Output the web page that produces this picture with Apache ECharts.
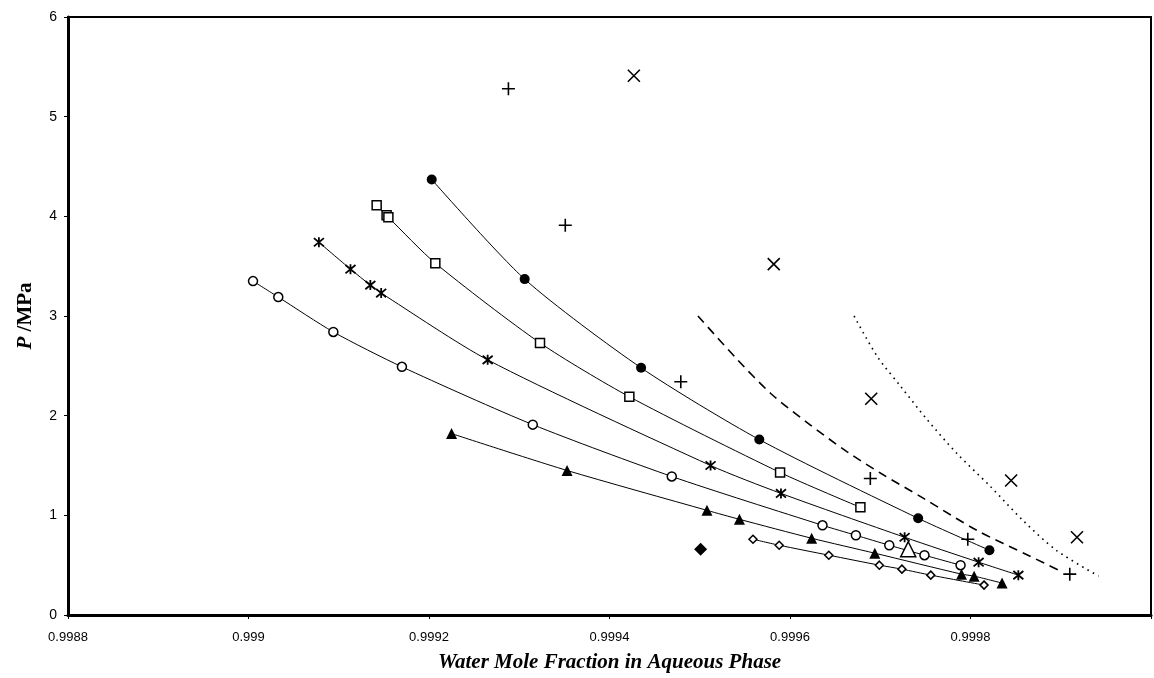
<!DOCTYPE html>
<html><head><meta charset="utf-8">
<script src="https://cdn.jsdelivr.net/npm/echarts@6/dist/echarts.min.js"></script>
<style>html,body{margin:0;padding:0;background:#fff}#c{width:1154px;height:678px}</style>
</head><body><div id="c"></div>
<script>
const xTickLabels = ['0.9988','0.999','0.9992','0.9994','0.9996','0.9998'];
const yTickLabels = ['0','1','2','3','4','5','6'];
const filledCircle = [[0.999203,4.37],[0.999306,3.37],[0.999435,2.48],[0.999566,1.76],[0.999742,0.97],[0.999821,0.65]];
const openSquare = [[0.999142,4.11],[0.999153,4.01],[0.999155,3.99],[0.999207,3.53],[0.999323,2.73],[0.999422,2.19],[0.999589,1.43],[0.999678,1.08]];
const star = [[0.999078,3.74],[0.999113,3.47],[0.999135,3.31],[0.999147,3.23],[0.999265,2.56],[0.999512,1.50],[0.999590,1.22],[0.999727,0.78],[0.999809,0.53],[0.999853,0.40]];
const openCircle = [[0.999005,3.35],[0.999033,3.19],[0.999094,2.84],[0.999170,2.49],[0.999315,1.91],[0.999469,1.39],[0.999636,0.90],[0.999673,0.80],[0.999710,0.70],[0.999749,0.60],[0.999789,0.50]];
const filledTriangle = [[0.999225,1.82],[0.999353,1.45],[0.999508,1.05],[0.999544,0.96],[0.999624,0.77],[0.999694,0.62],[0.999790,0.41],[0.999804,0.39],[0.999835,0.32]];
const openDiamond = [[0.999559,0.76],[0.999588,0.70],[0.999643,0.60],[0.999699,0.50],[0.999724,0.46],[0.999756,0.40],[0.999815,0.30]];
const filledDiamond = [[0.999501,0.66]];
const openTriangle = [[0.999731,0.66]];
const plusPoints = [[0.999288,5.28],[0.999351,3.91],[0.999479,2.34],[0.999689,1.37],[0.999797,0.76],[0.999910,0.41]];
const crossPoints = [[0.999427,5.41],[0.999582,3.52],[0.999690,2.17],[0.999845,1.35],[0.999918,0.78]];
const dashedCurve = [[0.999498,3.00],[0.999542,2.56],[0.999579,2.22],[0.999619,1.93],[0.999663,1.64],[0.999701,1.42],[0.999748,1.17],[0.999807,0.85],[0.999866,0.59],[0.999902,0.43]];
const dottedCurve = [[0.999671,3.00],[0.999697,2.59],[0.999723,2.29],[0.999752,1.96],[0.999785,1.62],[0.999822,1.29],[0.999858,0.95],[0.999895,0.65],[0.999942,0.39]];

const K = '#000';
const starPath = 'path://M0,0L10,10M10,0L0,10M5,-1L5,11';
const plusPath = 'path://M5,0L5,10M0,5L10,5';
const crossPath = 'path://M0,0L10,10M10,0L0,10';

function curve(data, symbol, size, fill, bw) {
  return {
    type: 'line', data: data, smooth: 0.25,
    symbol: symbol, symbolSize: size, showAllSymbol: true,
    lineStyle: { color: K, width: 1 },
    itemStyle: { color: fill, borderColor: K, borderWidth: bw },
    z: 3
  };
}
function points(data, symbol, size, fill, bw) {
  return {
    type: 'scatter', data: data, symbol: symbol, symbolSize: size,
    itemStyle: { color: fill, borderColor: K, borderWidth: bw, opacity: 1 }, z: 4
  };
}

const chart = echarts.init(document.getElementById('c'), null, { renderer: 'canvas' });
chart.setOption({
  animation: false,
  backgroundColor: '#fff',
  grid: { left: 68, right: 3, top: 17, bottom: 63, show: true, borderColor: K, borderWidth: 2, backgroundColor: 'transparent' },
  xAxis: {
    type: 'value', min: 0.9988, max: 1.0, interval: 0.0002,
    name: 'Water Mole Fraction in Aqueous Phase', nameLocation: 'middle', nameGap: 37,
    nameTextStyle: { fontFamily: 'Liberation Serif', fontWeight: 'bold', fontStyle: 'italic', fontSize: 21, color: K },
    axisLine: { show: true, onZero: false, lineStyle: { color: K, width: 3 } },
    axisTick: { show: true, length: 4, lineStyle: { color: K, width: 1 } },
    axisLabel: { margin: 16, fontFamily: 'Liberation Sans', fontSize: 13, color: K,
      formatter: function (v) { const i = Math.round((v - 0.9988) / 0.0002); return xTickLabels[i] || ''; } },
    splitLine: { show: false }
  },
  yAxis: {
    type: 'value', min: 0, max: 6, interval: 1,
    name: '{i|P} {b|/MPa}', nameLocation: 'middle', nameGap: 32, nameRotate: 90,
    nameTextStyle: { fontFamily: 'Liberation Serif', fontWeight: 'bold', fontSize: 21, color: K,
      rich: { i: { fontFamily: 'Liberation Serif', fontWeight: 'bold', fontStyle: 'italic', fontSize: 21, color: K },
              b: { fontFamily: 'Liberation Serif', fontWeight: 'bold', fontSize: 21, color: K } } },
    axisLine: { show: true, onZero: false, lineStyle: { color: K, width: 3 } },
    axisTick: { show: true, length: 4, lineStyle: { color: K, width: 1 } },
    axisLabel: { margin: 11, fontFamily: 'Liberation Sans', fontSize: 14, color: K,
      formatter: function (v) { return yTickLabels[Math.round(v)] || ''; } },
    splitLine: { show: false }
  },
  series: [
    curve(filledCircle, 'circle', 10, K, 0),
    curve(openSquare, 'rect', 9, '#fff', 1.5),
    curve(star, starPath, 10, 'none', 1.8),
    curve(openCircle, 'circle', 9, '#fff', 1.5),
    curve(filledTriangle, 'triangle', 11, K, 0),
    curve(openDiamond, 'diamond', 8, '#fff', 1.5),
    { type: 'line', data: dashedCurve, smooth: 0.3, symbol: 'none', lineStyle: { color: K, width: 1.6, type: [9, 6] }, z: 2 },
    { type: 'line', data: dottedCurve, smooth: 0.3, symbol: 'none', lineStyle: { color: K, width: 1.6, type: [1.6, 4.5] }, z: 2 },
    points(filledDiamond, 'diamond', 13, K, 0),
    points(openTriangle, 'triangle', 15, '#fff', 1.5),
    points(plusPoints, plusPath, 13, 'none', 1.6),
    points(crossPoints, crossPath, 12, 'none', 1.6)
  ]
});
</script></body></html>
